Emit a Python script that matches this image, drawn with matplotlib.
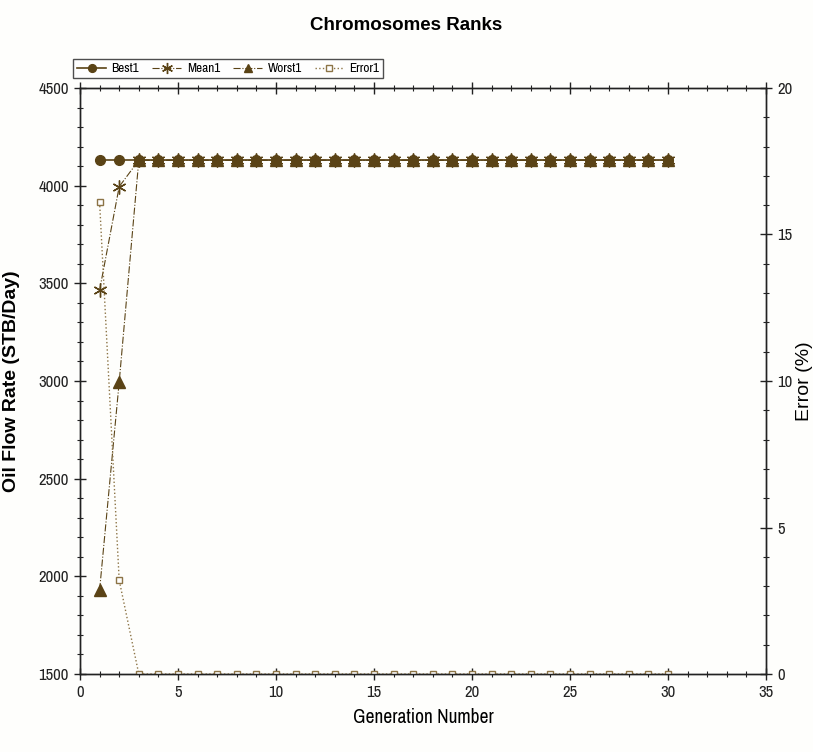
import numpy as np
import matplotlib
matplotlib.use("Agg")
import matplotlib.pyplot as plt
from matplotlib import font_manager
from matplotlib.ticker import MultipleLocator

# condensed face for ticks and legend, like the original
narrow = sorted(set(f.name for f in font_manager.fontManager.ttflist
                    if 'Narrow' in f.name))
plt.rcParams['font.family'] = narrow[:1] + ['DejaVu Sans']
plt.rcParams['font.stretch'] = 'condensed'

gen = np.arange(1, 31)
best1 = [4130] * 30
mean1 = [3465, 3995] + [4130] * 28
worst1 = [1930, 2995] + [4130] * 28
error1 = [16.1, 3.2] + [0.0] * 28

col = '#5a4316'
col_err = '#8c7446'

fig = plt.figure(figsize=(8.13, 7.52), dpi=100, facecolor='#fefefc')
ax = fig.add_axes([0.0984, 0.1037, 0.8438, 0.7793])
ax.set_facecolor('#fefefc')
ax2 = ax.twinx()

l1, = ax.plot(gen, best1, '-', color=col, lw=1.2, marker='o', ms=7, mfc=col, mec=col, label='Best1')
l2, = ax.plot(gen, mean1, '-.', color=col, lw=0.8, marker=(6, 2, 0), ms=10, mec=col, mew=1.0, label='Mean1')
l3, = ax.plot(gen, worst1, '-.', color=col, lw=0.8, marker='^', ms=8, mfc=col, mec=col, label='Worst1')
l4, = ax2.plot(gen, error1, ':', color=col_err, lw=1.0, marker='s', ms=5, mfc='white', mec=col_err, label='Error1')

ax.set_xlim(0, 35)
ax.set_ylim(1500, 4500)
ax2.set_ylim(0, 20)

ax.xaxis.set_major_locator(MultipleLocator(5))
ax.xaxis.set_minor_locator(MultipleLocator(1))
ax.yaxis.set_major_locator(MultipleLocator(500))
ax.yaxis.set_minor_locator(MultipleLocator(100))
ax2.yaxis.set_major_locator(MultipleLocator(5))
ax2.yaxis.set_minor_locator(MultipleLocator(1))

for a in (ax, ax2):
    for s in a.spines.values():
        s.set_linewidth(1.0)
        s.set_color('#222222')
ax.tick_params(which='both', direction='inout', top=True, colors='#222222', labelsize=12)
ax.tick_params(which='major', length=9, width=1.0)
ax.tick_params(which='minor', length=5, width=0.8)
ax2.tick_params(which='both', direction='inout', colors='#222222', labelsize=12)
ax2.tick_params(which='major', length=9, width=1.0)
ax2.tick_params(which='minor', length=5, width=0.8)

ax.set_xlabel('Generation Number', fontsize=14, labelpad=6)
ax.set_ylabel('Oil Flow Rate (STB/Day)', fontsize=14, fontweight='bold',
              family='Liberation Sans', stretch='normal')
ax.yaxis.set_label_coords(-0.088, 0.5)
ax2.set_ylabel('Error (%)', fontsize=14, family='Liberation Sans', stretch='normal')
ax2.yaxis.set_label_coords(1.043, 0.5)
fig.suptitle('Chromosomes Ranks', fontsize=13.5, fontweight='bold',
             family='Liberation Sans', stretch='normal', y=0.978)

leg = fig.legend(handles=[l1, l2, l3, l4], loc='upper left', bbox_to_anchor=(0.082, 0.93),
                 ncol=4, frameon=True, fancybox=False, fontsize=9.5, handlelength=2.2,
                 columnspacing=1.0, borderpad=0.3, handletextpad=0.4, markerscale=0.8)
leg.get_frame().set_edgecolor('#222222')
leg.get_frame().set_linewidth(1.0)

fig.savefig('out.png', dpi=100, facecolor=fig.get_facecolor())
